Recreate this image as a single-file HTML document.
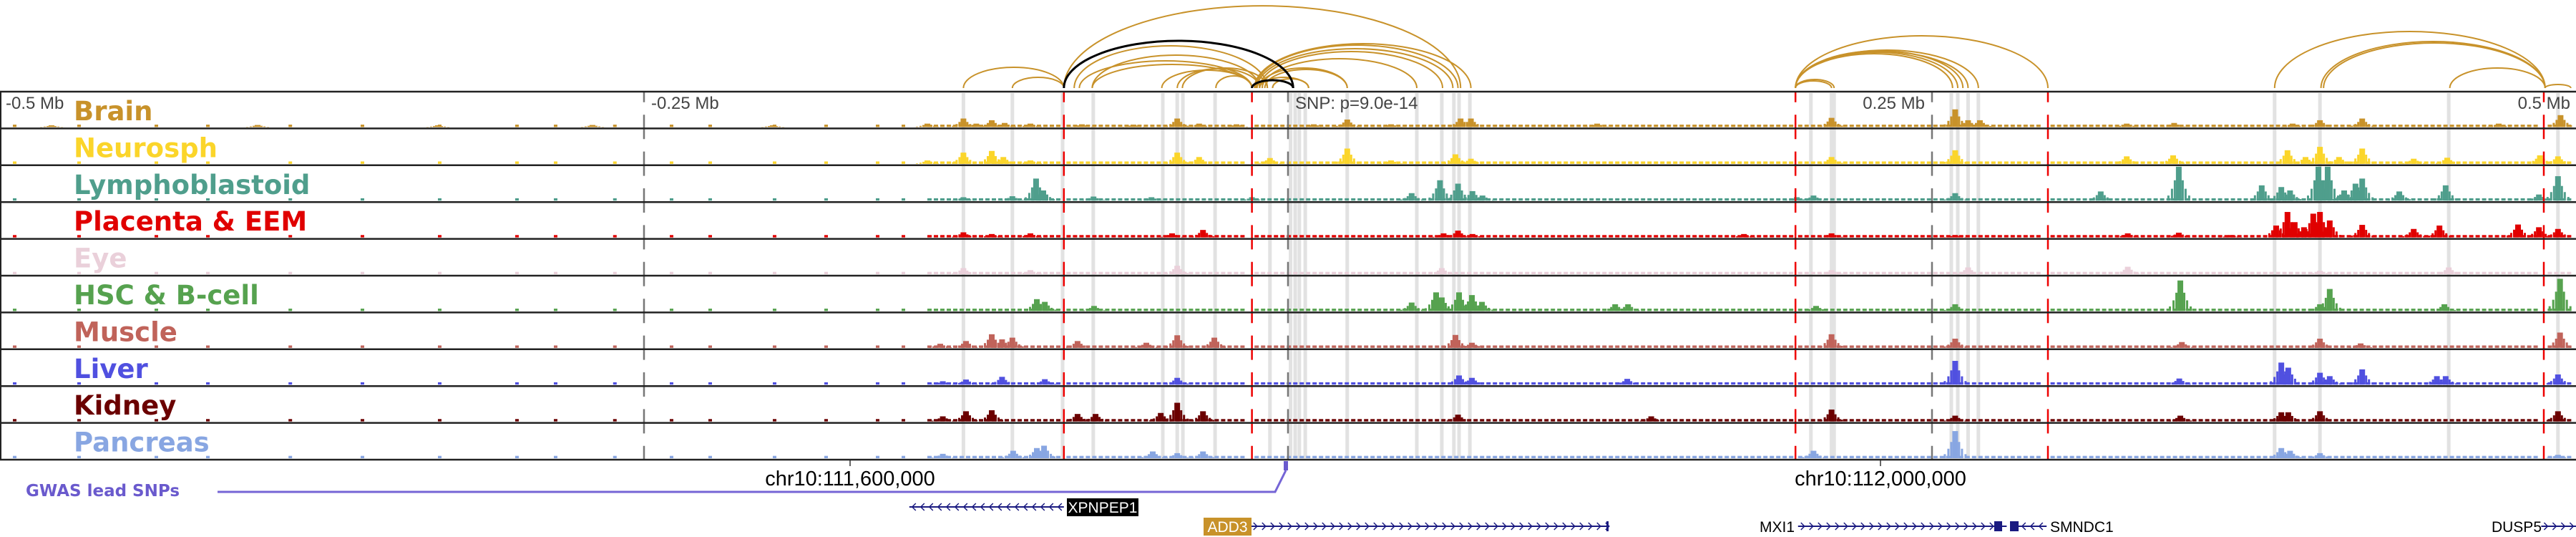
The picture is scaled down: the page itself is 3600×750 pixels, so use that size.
<!DOCTYPE html>
<html><head><meta charset="utf-8"><title>Tissue signal tracks</title>
<style>
html,body{margin:0;padding:0;background:#fff;}
svg{display:block;}
.lbl{font-family:"DejaVu Sans","Liberation Sans",sans-serif;font-weight:bold;font-size:37px;}
.ax{font-family:"Liberation Sans",sans-serif;font-size:24px;fill:#444;}
.chr{font-family:"Liberation Sans",sans-serif;font-size:29px;fill:#000;}
.gene{font-family:"Liberation Sans",sans-serif;font-size:21px;}
</style></head>
<body>
<svg id="fig" xmlns="http://www.w3.org/2000/svg" width="3600" height="750" viewBox="0 0 3600 750">
  <g id="arcs"></g>
  <g id="hl"></g>
  <g id="tracks"></g>
  <g id="vlines"></g>
  <g id="labels"></g>
  <g id="axis">
    <text class="ax" x="8" y="152">-0.5 Mb</text>
    <text class="ax" x="910" y="152">-0.25 Mb</text>
    <text class="ax" x="1810" y="152">SNP: p=9.0e-14</text>
    <text class="ax" x="2690" y="152" text-anchor="end">0.25 Mb</text>
    <text class="ax" x="3592" y="152" text-anchor="end">0.5 Mb</text>
  </g>
  <g id="bottom">
    <line x1="1188" y1="643" x2="1188" y2="651" stroke="#333" stroke-width="1.5"/>
    <text class="chr" x="1188" y="678" text-anchor="middle">chr10:111,600,000</text>
    <line x1="2628" y1="643" x2="2628" y2="651" stroke="#333" stroke-width="1.5"/>
    <text class="chr" x="2628" y="678" text-anchor="middle">chr10:112,000,000</text>
  </g>
  <g id="gwas">
    <text x="36" y="693" font-family="DejaVu Sans, Liberation Sans, sans-serif" font-weight="bold" font-size="23" fill="#6a5acd">GWAS lead SNPs</text>
    <polyline points="304,687 1782,687 1797,657" fill="none" stroke="#7565d6" stroke-width="3"/>
    <rect x="1794" y="644" width="6" height="13" fill="#6a5acd"/>
  </g>
  <g id="genes"></g>
</svg>
<script>
// ---------- data ----------
const trackNames = ["Brain","Neurosph","Lymphoblastoid","Placenta & EEM","Eye","HSC & B-cell","Muscle","Liver","Kidney","Pancreas"];
const trackColors = ["#c8922a","#fbd52a","#4f9e8c","#e00000","#ead0da","#56a24f","#c0635a","#5050e0","#6b0000","#88a6e2"];
// peaks: [kb offset from SNP, relative height 0-1]
const peaksBrain = [[-480,.05],[-400,.06],[-330,.05],[-270,.06],[-200,.05],[-140,.1],[-126,.25],[-121,.1],[-115,.2],[-110,.12],[-100,.1],[-80,.08],[-60,.07],[-43,.25],[-34.5,.1],[-20,.08],[10,.08],[23,.22],[40,.08],[67,.25],[71,.25],[120,.1],[211,.27],[259,.52],[264,.2],[268.6,.2],[325.6,.1],[344,.12],[390,.1],[400.6,.2],[417,.25],[470,.1],[494,.35]];
const peaksNeurosph = [[-140,.1],[-126,.33],[-115,.38],[-110.5,.2],[-100,.1],[-43,.33],[-34.5,.2],[-7,.17],[23,.45],[40,.1],[65,.28],[71,.15],[211,.2],[259,.4],[325.6,.22],[343.6,.25],[388,.4],[395,.2],[400.6,.5],[408,.2],[417,.45],[437,.15],[450,.18],[486,.25],[493,.22]];
const peaksLympho = [[-126,.1],[-107,.13],[-97.8,.65],[-95,.3],[-75.5,.12],[-53,.1],[-14,.1],[48,.22],[59,.6],[66,.5],[71.6,.28],[75.5,.15],[197.5,.1],[204,.15],[259,.22],[315.5,.27],[345.8,1.0],[378,.45],[385.6,.4],[389,.3],[400,1.0],[403.6,1.0],[410,.3],[414.4,.5],[417,.65],[431.4,.27],[449.4,.45],[485.6,.18],[493,.72]];
const peaksPlacenta = [[-126,.15],[-115,.1],[-100,.12],[-33,.22],[-45,.12],[60.4,.12],[66,.2],[71.6,.1],[177,.1],[211,.12],[259,.07],[326,.12],[345.8,.14],[366,.07],[383.6,.35],[388,.75],[390.8,.45],[394.4,.3],[398,.7],[400.6,.75],[404.4,.5],[417,.37],[437,.25],[447,.35],[477.5,.38],[485.6,.3],[493,.25]];
const peaksEye = [[-126,.18],[-100,.12],[-43,.25],[59.7,.18],[211,.12],[264,.2],[326,.22],[400.6,.1],[450.6,.2]];
const peaksHSC = [[-97.5,.35],[-94.4,.27],[-75.3,.15],[48,.25],[57.5,.55],[59.7,.4],[66.4,.55],[71.4,.47],[75.3,.27],[127,.2],[132,.2],[205,.15],[259,.2],[346.4,.9],[400.6,.2],[404.4,.65],[448.9,.2],[493.8,.95]];
const peaksMuscle = [[-135,.12],[-125,.2],[-115,.4],[-111,.25],[-107,.3],[-81.7,.2],[-55,.15],[-43,.37],[-28.6,.3],[65,.38],[71.4,.15],[211,.4],[259,.27],[347,.17],[400.6,.27],[416.4,.13],[493.8,.45]];
const peaksLiver = [[-134,.1],[-125,.15],[-111,.23],[-94.4,.16],[-43,.2],[66.4,.27],[71.4,.2],[131.7,.17],[259,.7],[346,.18],[385.6,.65],[388.3,.5],[400.6,.35],[404.4,.25],[417,.45],[446,.25],[449.4,.25],[493,.3]];
const peaksKidney = [[-134,.15],[-125,.3],[-115,.33],[-81.7,.22],[-74.7,.22],[-49.4,.25],[-43,.55],[-33,.3],[66,.2],[141,.15],[211,.35],[259,.17],[346.4,.17],[385.6,.27],[388.3,.27],[400.6,.3],[493,.3]];
const peaksPancreas = [[-134,.13],[-106.7,.22],[-97.5,.3],[-94.7,.37],[-52.5,.2],[-43,.15],[-33,.2],[204,.22],[259,.8],[385.6,.3],[389,.22],[400.6,.15],[493,.1]];
const allPeaks = [peaksBrain,peaksNeurosph,peaksLympho,peaksPlacenta,peaksEye,peaksHSC,peaksMuscle,peaksLiver,peaksKidney,peaksPancreas];
// low background signal
const bgSparse = [-495,-470,-440,-420,-388,-360,-330,-300,-285,-262,-240,-225,-200,-180,-160,-150];
const bgDense = [[-140,-88],[-86,-15],[-13,196],[198,294],[296,486],[489,500]];
const bgLevel = 0.07;
// highlighted regions (kb)
const highlights = [-126,-107,-87.5,-75.6,-48.6,-43,-40.8,-28.3,-7,1,2.8,4.4,6.7,23,50,59.7,64.4,66.4,70.6,203,211,212,257.5,260,264,268,383,400.6,450.6,493];
const redMarks = [-87,-14,197,295,487.5];
const axisMarks = [-250,0,250];
// loops: [startKb, endKb, arcRisePx]
const loopsTan = [[-126,-87,29],[-107,-87,15],[-87,67,115],[-83,-8,59],[-76,-11,46],[-76,-14,33],[-81,-14,38],[-49,-14,25],[-43,-11,27],[-41,-8,28],[-28,-14,17],
 [-13,71,62],[-12.5,66,60],[-12,64,55],[-11,60,51],[-10,50,41],[-11,23,28],[-9,23,26],[-11,8,15],[-6,8,13],
 [197,295,73],[197,268,53],[197,264,51],[197,262,52],[197,260,50],[197,258,48],[197,212,12],[197,211,10],
 [383,488,79],[401,488,65],[402,488,63],[451,488,28],[488,498,5]];
const loopsBlack = [[-87,2,66],[-14,2,11]];
const genes = [
 {name:"XPNPEP1", start:-147, end:-87, strand:-1, y:708, box:"#000", labelX:1491, labelW:100},
 {name:"ADD3", start:-14.5, end:124.5, strand:1, y:735, box:"#c8922a", labelX:1682, labelW:67},
 {name:"MXI1", start:198, end:279, strand:1, y:735, box:null},
 {name:"SMNDC1", start:280.5, end:294.5, strand:-1, y:735, box:null},
 {name:"DUSP5", start:486.5, end:500, strand:1, y:735, box:null}
];

// ---------- scales ----------
const NS="http://www.w3.org/2000/svg";
const X = kb => (kb+500)*3.6;
const TOP = 128, TH = 51.4, BASE = 123;
const trackTop = i => TOP + i*TH;
function mk(tag, attrs, parent){const e=document.createElementNS(NS,tag);for(const k in attrs)e.setAttribute(k,attrs[k]);parent.appendChild(e);return e;}

const hl=document.getElementById('hl');
highlights.forEach(kb=>{
  const r=mk('rect',{x:X(kb)-2.5,y:TOP+2,width:5,height:10*TH-4,fill:"#e2e2e2"},hl);
  
  
});

const tg=document.getElementById('tracks');
allPeaks.forEach((pk,i)=>{
  const g=mk('g',{},tg);
  
  
  const bottom=trackTop(i)+TH-2, hmax=TH-4, col=trackColors[i];
  bgSparse.forEach(kb=>{
    const b=mk('rect',{x:X(kb),y:bottom-hmax*bgLevel,width:5,height:hmax*bgLevel,fill:col},g);
    
    
  });
  bgDense.forEach(s=>{
    for(let x=X(s[0]);x<X(s[1])-4;x+=9){
      const b=mk('rect',{x:x,y:bottom-hmax*bgLevel,width:6,height:hmax*bgLevel,fill:col},g);
      
      
    }
  });
  pk.forEach(p=>{
    const cx=X(p[0]), h=hmax*p[1];
    [[-16,.15],[-11,.35],[-7,.6],[4,.6],[8,.35],[13,.15]].forEach(s=>{
      const sh=mk('rect',{x:cx+s[0],y:bottom-h*s[1],width:3,height:h*s[1],fill:col},g);
      
      
    });
    const b=mk('rect',{x:cx-4,y:bottom-h,width:8,height:h,fill:col},g);
    
    
  });
});

const vl=document.getElementById('vlines');
axisMarks.forEach(kb=>{
  const l=mk('line',{x1:X(kb),y1:TOP,x2:X(kb),y2:TOP+10*TH,stroke:"#777",'stroke-width':2.5,'stroke-dasharray':"34 17.4",'stroke-dashoffset':19.2},vl);
  
  
});
redMarks.forEach(kb=>{
  const l=mk('line',{x1:X(kb),y1:TOP,x2:X(kb),y2:TOP+10*TH,stroke:"#ee0000",'stroke-width':2.5,'stroke-dasharray':"34 17.4",'stroke-dashoffset':19.2},vl);
  
  
});
for(let i=0;i<=10;i++){
  const l=mk('line',{x1:0,y1:trackTop(i),x2:3600,y2:trackTop(i),stroke:"#222",'stroke-width':2.5},vl);
  
  
}
const fl=mk('line',{x1:1,y1:TOP,x2:1,y2:TOP+10*TH,stroke:"#222",'stroke-width':2},vl);



const lg=document.getElementById('labels');
trackNames.forEach((n,i)=>{
  const t=mk('text',{x:103,y:trackTop(i)+40,class:'lbl',fill:trackColors[i]},lg);
  t.textContent=n;
  
  
});

const ag=document.getElementById('arcs');
function arc(l,col,w){
  const x1=X(l[0]),x2=X(l[1]),rx=(x2-x1)/2,ry=l[2];
  return mk('path',{d:`M${x1},${BASE} A${rx},${ry} 0 0 1 ${x2},${BASE}`,fill:"none",stroke:col,'stroke-width':w},ag);
}
loopsTan.forEach(l=>{const p=arc(l,"#c8922a",2);
  
  });
loopsBlack.forEach(l=>{const p=arc(l,"#000",3);
  
  });

const gg=document.getElementById('genes');
genes.forEach(gn=>{
  const g=mk('g',{},gg);
  
  
  const x1=X(gn.start), x2=X(gn.end), y=gn.y;
  mk('line',{x1:x1,y1:y,x2:x2,y2:y,stroke:"#1a1a80",'stroke-width':2},g);
  for(let x=x1+4;x<x2-4;x+=12){
    const d=gn.strand>0?`M${x},${y-5} L${x+5},${y} L${x},${y+5}`:`M${x+5},${y-5} L${x},${y} L${x+5},${y+5}`;
    mk('path',{d:d,fill:"none",stroke:"#1a1a80",'stroke-width':1.5},g);
  }
  if(gn.box){
    mk('rect',{x:gn.labelX,y:y-12,width:gn.labelW,height:25,fill:gn.box},g);
    const t=mk('text',{x:gn.labelX+gn.labelW/2,y:y+8,'text-anchor':'middle',class:'gene',fill:'#fff'},g);
    t.textContent=gn.name;
  }
});
[["MXI1",2508,"end"],["SMNDC1",2865,"start"],["DUSP5",3552,"end"]].forEach(a=>{
  const t=mk('text',{x:a[1],y:743,'text-anchor':a[2],class:'gene',fill:'#000'},gg);
  t.textContent=a[0];
  
  
});
[[2787,11],[2809,12],[2245,3]].forEach(b=>{
  const r=mk('rect',{x:b[0],y:728,width:b[1],height:14,fill:"#1a1a80"},gg);
  
  
});
</script>
</body></html>
